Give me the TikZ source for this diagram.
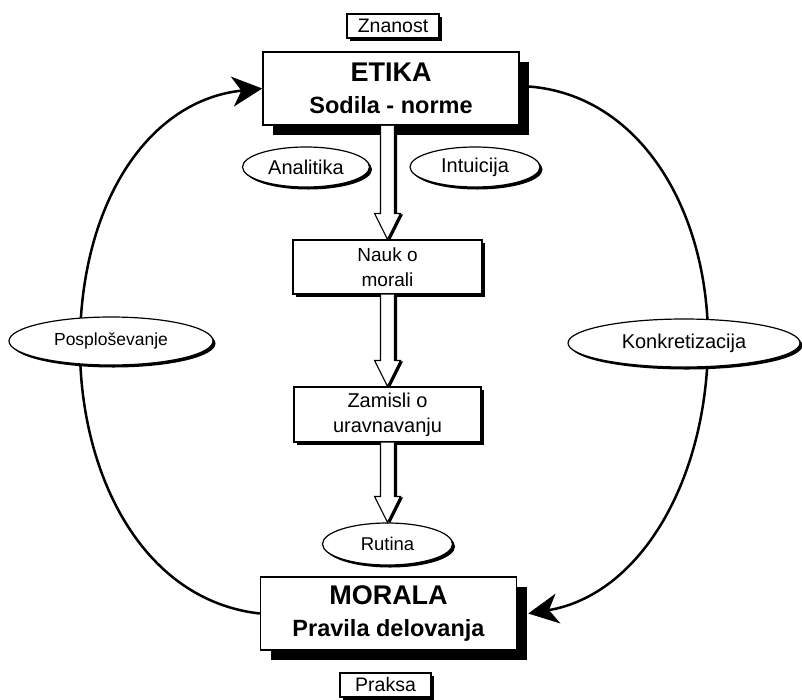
\documentclass[tikz,border=0pt]{standalone}
\usepackage{fontspec}
\setmainfont{Liberation Sans}
\usetikzlibrary{shadows,calc,arrows.meta,shapes.geometric}
\tikzset{
  bigbox/.style={draw, line width=1.5pt, fill=white, minimum width=256pt, minimum height=73pt,
    inner sep=0pt, align=center, font=\fontsize{23.5}{32}\selectfont\bfseries,
    drop shadow={shadow xshift=10pt, shadow yshift=-10pt, fill=black, opacity=1}},
  midbox/.style={draw, line width=1.2pt, fill=white, inner sep=0pt, align=center,
    font=\fontsize{19.5}{25}\selectfont,
    drop shadow={shadow xshift=3pt, shadow yshift=-3pt, fill=black, opacity=1}},
  tagbox/.style={draw, line width=1.2pt, fill=white, inner sep=0pt, minimum height=24pt,
    font=\fontsize{19.5}{20}\selectfont,
    drop shadow={shadow xshift=3pt, shadow yshift=-3pt, fill=black, opacity=1}},
  oval/.style={draw, ellipse, line width=1.2pt, fill=white, inner sep=0pt,
    font=\fontsize{19.5}{20}\selectfont,
    drop shadow={shadow xshift=2.5pt, shadow yshift=-2.5pt, fill=black, opacity=1}},
  harrowsty/.style={draw, line width=1.2pt, fill=white, line join=miter,
    drop shadow={shadow xshift=2.5pt, shadow yshift=-1pt, fill=black, opacity=1}},
  cycline/.style={line width=2.5pt, -{Stealth[length=30pt,width=30pt,inset=9pt]}},
}
\newcommand\harrow[2]{%
  \path[harrowsty] ($(#1.south -| #2.north)+(-7,0)$) -- ($(#2.north)+(-7,-26)$)
    -- ($(#2.north)+(-13,-26)$) -- (#2.north) -- ($(#2.north)+(13,-26)$)
    -- ($(#2.north)+(7,-26)$) -- ($(#1.south -| #2.north)+(7,0)$);}
\begin{document}
\begin{tikzpicture}[x=1pt,y=-1pt]
\useasboundingbox (0,0) rectangle (802,699);
\fill[white] (0,0) rectangle (802,699);

\coordinate (lmid) at (80,340);
\coordinate (rmid) at (708,340);

\node[bigbox] (etika) at (391,88.5) {{\fontsize{27}{32}\selectfont ETIKA}\\Sodila - norme};
\node[bigbox] (morala) at (388.5,613.5) {{\fontsize{27}{32}\selectfont MORALA}\\Pravila delovanja};

\draw[line width=2.5pt] (morala.west) .. controls (140,600) and (78,470) .. (lmid);
\draw[cycline] (lmid) .. controls (82,200) and (150,100) .. (etika.west);
\draw[line width=2.5pt] ($(etika.east)+(9,-2)$) .. controls (640,95) and (708,210) .. (rmid);
\draw[cycline] (rmid) .. controls (708,480) and (640,595) .. ($(morala.east)+(11,0)$);

\node[tagbox, minimum width=92pt] (znanost) at (393,26) {Znanost};
\node[tagbox, minimum width=91pt] (praksa) at (385.5,685) {Praksa};

\node[midbox, minimum width=189pt, minimum height=54pt, font=\fontsize{19}{25}\selectfont] (nauk) at (387.5,267) {Nauk o\\morali};
\node[midbox, minimum width=187pt, minimum height=55pt, font=\fontsize{20}{25}\selectfont] (zamisli) at (387.5,414.5) {Zamisli o\\uravnavanju};

\node[oval, minimum width=127pt, minimum height=40pt, font=\fontsize{20}{20}\selectfont] (analitika) at (306,167) {Analitika};
\node[oval, minimum width=130pt, minimum height=40pt, font=\fontsize{20}{20}\selectfont] (intuicija) at (475,167) {Intuicija};
\node[oval, minimum width=130pt, minimum height=42pt, font=\fontsize{18.5}{20}\selectfont] (rutina) at (387.5,544) {Rutina};
\node[oval, minimum width=204pt, minimum height=48pt, font=\fontsize{17.5}{20}\selectfont] (posplo) at (111,341) {Posploševanje};
\node[oval, minimum width=232pt, minimum height=48pt, font=\fontsize{20}{20}\selectfont] (konkret) at (684,343) {Konkretizacija};

\harrow{etika}{nauk}
\harrow{nauk}{zamisli}
\harrow{zamisli}{rutina}
\end{tikzpicture}
\end{document}
